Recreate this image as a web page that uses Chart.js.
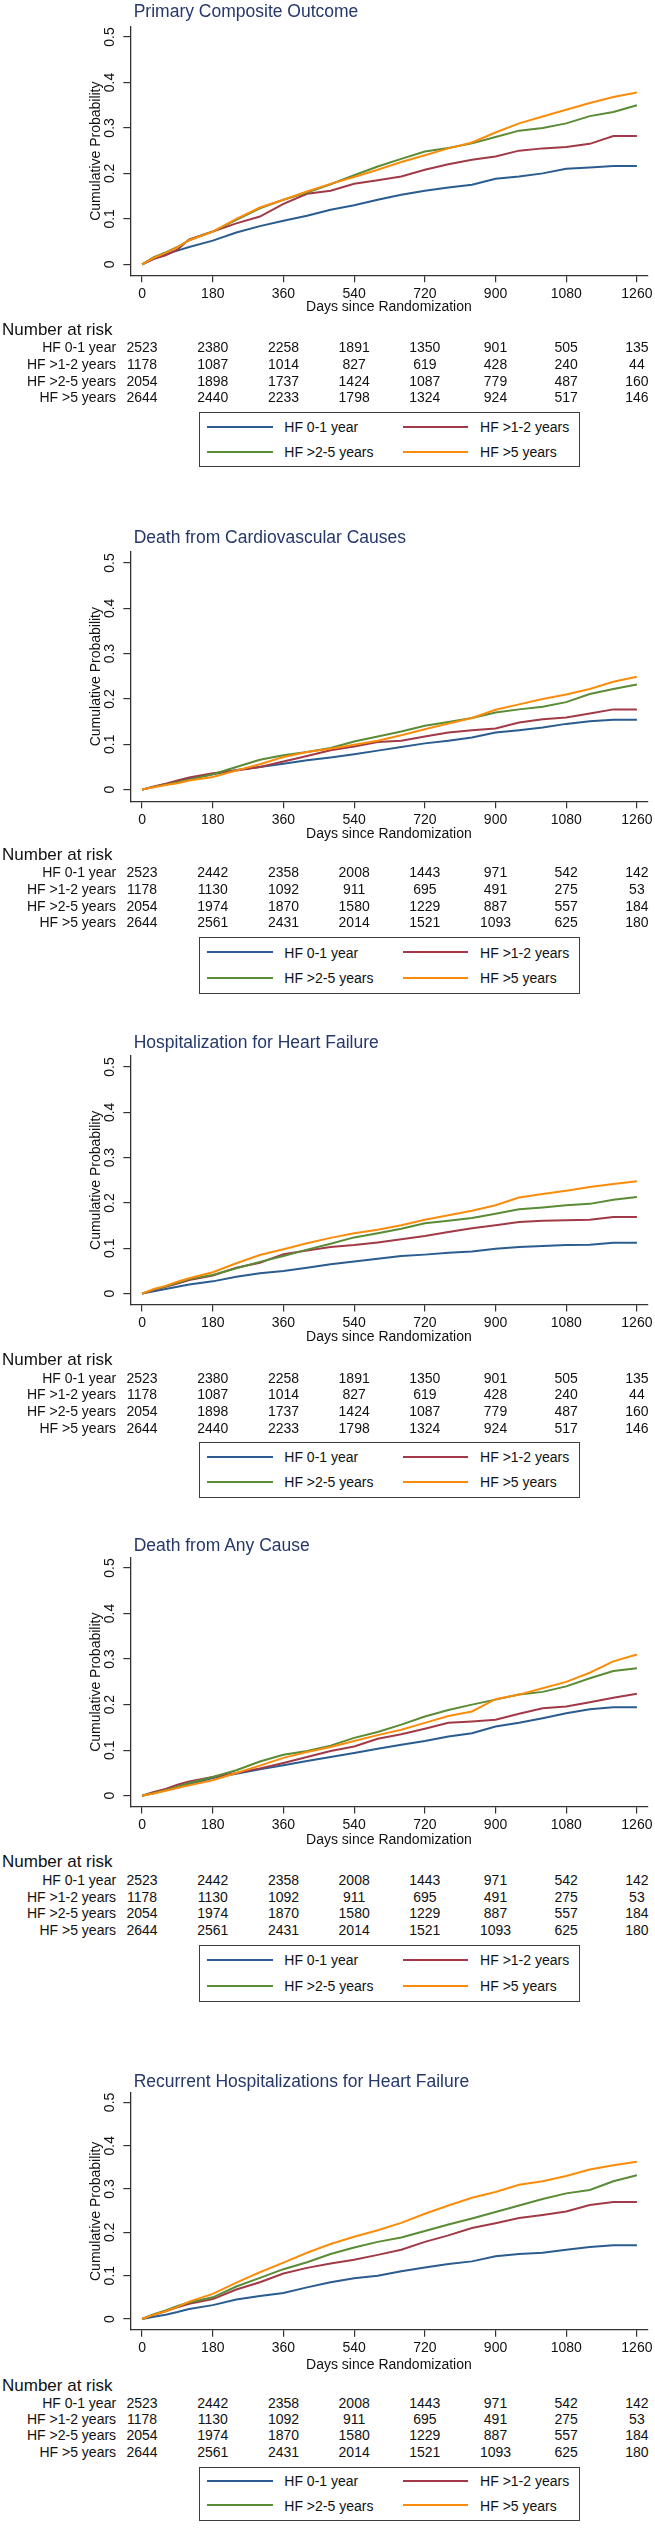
<!DOCTYPE html>
<html>
<head>
<meta charset="utf-8">
<script src="https://cdn.jsdelivr.net/npm/chart.js@4.4.1/dist/chart.umd.min.js"></script>
<style>
html,body{margin:0;padding:0;background:#fff;}
body{width:655px;height:2541px;position:relative;overflow:hidden;font-family:"Liberation Sans",Arial,Helvetica,sans-serif;color:#111;}
.abs{position:absolute;white-space:nowrap;}
canvas{position:absolute;left:0;}
.ttl{font-size:17.5px;line-height:20px;color:#26386b;}
.nar{font-size:17px;line-height:19px;}
.row{font-size:14px;line-height:16px;}
.num{transform:translateX(-50%);}
.leg{border:1.4px solid #3c3c3c;box-sizing:border-box;background:#fff;}
.lsw{height:2px;}
</style>
</head>
<body>
<script>
// ---------------- data ----------------
const days = [0,30,60,90,120,180,240,300,360,420,480,540,600,660,720,780,840,900,960,1020,1080,1140,1200,1260];
const xTicks = [0,180,360,540,720,900,1080,1260];
const yTicks = [0,0.1,0.2,0.3,0.4,0.5];
const groups = ["HF 0-1 year","HF >1-2 years","HF >2-5 years","HF >5 years"];
const panelTitles = ["Primary Composite Outcome","Death from Cardiovascular Causes","Hospitalization for Heart Failure","Death from Any Cause","Recurrent Hospitalizations for Heart Failure"];

// Primary composite outcome
const primary_hf01 = [0,0.012,0.022,0.03,0.038,0.052,0.07,0.084,0.096,0.107,0.12,0.13,0.142,0.153,0.162,0.169,0.175,0.188,0.193,0.2,0.21,0.213,0.216,0.216];
const primary_hf12 = [0,0.012,0.02,0.032,0.055,0.072,0.09,0.105,0.133,0.155,0.162,0.177,0.185,0.193,0.208,0.22,0.23,0.237,0.25,0.255,0.258,0.265,0.282,0.282];
const primary_hf25 = [0,0.016,0.026,0.038,0.053,0.072,0.098,0.123,0.142,0.158,0.176,0.196,0.215,0.232,0.248,0.256,0.266,0.28,0.294,0.3,0.31,0.326,0.335,0.35];
const primary_hf5  = [0,0.014,0.025,0.038,0.053,0.072,0.1,0.125,0.142,0.16,0.177,0.192,0.208,0.225,0.24,0.255,0.268,0.29,0.31,0.325,0.34,0.355,0.368,0.378];

// Death from cardiovascular causes
const cvdeath_hf01 = [0,0.006,0.012,0.017,0.024,0.034,0.043,0.05,0.057,0.065,0.071,0.078,0.086,0.094,0.102,0.108,0.115,0.126,0.131,0.137,0.145,0.151,0.154,0.154];
const cvdeath_hf12 = [0,0.007,0.013,0.02,0.027,0.036,0.042,0.05,0.062,0.074,0.087,0.095,0.105,0.108,0.117,0.126,0.131,0.135,0.148,0.155,0.159,0.168,0.177,0.177];
const cvdeath_hf25 = [0,0.006,0.011,0.016,0.022,0.034,0.05,0.066,0.076,0.083,0.092,0.106,0.117,0.128,0.141,0.149,0.158,0.17,0.177,0.183,0.193,0.211,0.222,0.232];
const cvdeath_hf5  = [0,0.005,0.01,0.014,0.02,0.028,0.042,0.056,0.072,0.083,0.09,0.099,0.108,0.12,0.133,0.146,0.158,0.176,0.188,0.2,0.21,0.222,0.238,0.249];

// Hospitalization for heart failure
const hfhosp_hf01 = [0,0.005,0.01,0.015,0.02,0.027,0.037,0.045,0.05,0.057,0.065,0.071,0.077,0.083,0.086,0.09,0.093,0.099,0.103,0.105,0.107,0.108,0.112,0.112];
const hfhosp_hf12 = [0,0.008,0.015,0.022,0.03,0.04,0.057,0.068,0.087,0.095,0.103,0.107,0.113,0.12,0.127,0.136,0.144,0.151,0.158,0.161,0.162,0.163,0.169,0.169];
const hfhosp_hf25 = [0,0.009,0.016,0.024,0.032,0.041,0.056,0.07,0.083,0.097,0.11,0.124,0.133,0.143,0.155,0.161,0.167,0.176,0.186,0.19,0.195,0.198,0.207,0.213];
const hfhosp_hf5  = [0,0.01,0.017,0.026,0.034,0.047,0.067,0.085,0.098,0.111,0.123,0.133,0.141,0.151,0.163,0.173,0.183,0.195,0.212,0.22,0.227,0.235,0.242,0.248];

// Death from any cause
const anydeath_hf01 = [0,0.006,0.012,0.018,0.025,0.039,0.048,0.058,0.067,0.076,0.085,0.094,0.103,0.112,0.12,0.13,0.137,0.152,0.16,0.17,0.181,0.19,0.194,0.194];
const anydeath_hf12 = [0,0.008,0.015,0.024,0.031,0.041,0.05,0.06,0.072,0.085,0.098,0.108,0.125,0.135,0.147,0.16,0.163,0.167,0.18,0.192,0.196,0.205,0.215,0.224];
const anydeath_hf25 = [0,0.006,0.012,0.02,0.028,0.041,0.056,0.075,0.09,0.098,0.11,0.127,0.14,0.156,0.174,0.188,0.2,0.211,0.222,0.228,0.24,0.258,0.274,0.28];
const anydeath_hf5  = [0,0.005,0.011,0.017,0.023,0.034,0.05,0.066,0.083,0.096,0.107,0.12,0.133,0.145,0.16,0.175,0.185,0.212,0.222,0.236,0.25,0.27,0.295,0.31];

// Recurrent hospitalizations for heart failure
const recurrent_hf01 = [0,0.005,0.01,0.016,0.023,0.032,0.045,0.053,0.06,0.073,0.085,0.094,0.1,0.11,0.119,0.127,0.133,0.145,0.15,0.153,0.16,0.166,0.17,0.17];
const recurrent_hf12 = [0,0.01,0.018,0.027,0.035,0.046,0.068,0.085,0.105,0.118,0.128,0.137,0.148,0.16,0.178,0.193,0.21,0.221,0.233,0.24,0.248,0.263,0.27,0.27];
const recurrent_hf25 = [0,0.011,0.02,0.03,0.038,0.05,0.075,0.095,0.115,0.131,0.15,0.165,0.178,0.188,0.203,0.218,0.232,0.247,0.262,0.277,0.29,0.298,0.318,0.332];
const recurrent_hf5  = [0,0.01,0.018,0.028,0.04,0.058,0.084,0.108,0.13,0.153,0.173,0.19,0.205,0.222,0.243,0.262,0.28,0.293,0.31,0.318,0.33,0.345,0.355,0.363];

// Number at risk
const riskA_hf01 = [2523,2380,2258,1891,1350,901,505,135];
const riskA_hf12 = [1178,1087,1014,827,619,428,240,44];
const riskA_hf25 = [2054,1898,1737,1424,1087,779,487,160];
const riskA_hf5  = [2644,2440,2233,1798,1324,924,517,146];
const riskB_hf01 = [2523,2442,2358,2008,1443,971,542,142];
const riskB_hf12 = [1178,1130,1092,911,695,491,275,53];
const riskB_hf25 = [2054,1974,1870,1580,1229,887,557,184];
const riskB_hf5  = [2644,2561,2431,2014,1521,1093,625,180];

// ---------------- assembly ----------------
const panelSeries = [
  [primary_hf01, primary_hf12, primary_hf25, primary_hf5],
  [cvdeath_hf01, cvdeath_hf12, cvdeath_hf25, cvdeath_hf5],
  [hfhosp_hf01, hfhosp_hf12, hfhosp_hf25, hfhosp_hf5],
  [anydeath_hf01, anydeath_hf12, anydeath_hf25, anydeath_hf5],
  [recurrent_hf01, recurrent_hf12, recurrent_hf25, recurrent_hf5]
];
const riskA = [riskA_hf01, riskA_hf12, riskA_hf25, riskA_hf5];
const riskB = [riskB_hf01, riskB_hf12, riskB_hf25, riskB_hf5];
const panelRisk = [riskA, riskB, riskA, riskB, riskB];

// ---------------- layout & style ----------------
const colors = ['#2b5c8f', '#a13a46', '#5a8b35', '#fb8c0b'];
const FONT = '"Liberation Sans", Arial, Helvetica, sans-serif';
const geo = [
  {titleBase:16.7, axisTop:26.7, axisBottom:275, y05:36.7, y0:264, xTitleC:307.3, narBase:335, rowBase:[352.3,369,385.7,402.3], legTop:412.3, legBot:467},
  {titleBase:543.3, axisTop:551.7, axisBottom:801, y05:562.7, y0:789.3, xTitleC:834, narBase:860.7, rowBase:[877.3,894,910.7,927.3], legTop:937.3, legBot:994},
  {titleBase:1048.3, axisTop:1055.7, axisBottom:1304.3, y05:1066.7, y0:1293.3, xTitleC:1337.3, narBase:1365, rowBase:[1382.7,1399.3,1416,1432.7], legTop:1441.7, legBot:1498.3},
  {titleBase:1550.7, axisTop:1558.3, axisBottom:1806.7, y05:1568.3, y0:1796, xTitleC:1840, narBase:1867.7, rowBase:[1885,1901.7,1918.3,1935], legTop:1945, legBot:2001.7},
  {titleBase:2086.7, axisTop:2093.3, axisBottom:2330, y05:2102.7, y0:2319.3, xTitleC:2365.7, narBase:2391.7, rowBase:[2408.3,2424.3,2440.3,2456.7], legTop:2466.7, legBot:2520.7}
];
const AXIS_LEFT = 130.3, AXIS_RIGHT = 647.5, X_MIN = -30, X_MAX = 1287;
const PAD_TOP = 16, XBOX = 46;

const yTickPlugin = {
  id: 'yTickLabels',
  afterDraw(chart) {
    const {ctx} = chart;
    const y = chart.scales.y;
    ctx.save();
    ctx.font = '14px ' + FONT;
    ctx.fillStyle = '#111';
    ctx.textAlign = 'center';
    ctx.textBaseline = 'middle';
    for (const v of yTicks) {
      const py = y.getPixelForValue(v);
      ctx.save();
      ctx.translate(y.right - 20.3, py);
      ctx.rotate(-Math.PI / 2);
      ctx.fillText(String(v), 0, 0);
      ctx.restore();
    }
    ctx.restore();
  }
};

function addDiv(cls, text, css) {
  const d = document.createElement('div');
  d.className = 'abs ' + cls;
  if (text !== null) d.textContent = text;
  Object.assign(d.style, css);
  document.body.appendChild(d);
  return d;
}

geo.forEach((g, p) => {
  const canvasTop = g.axisTop - PAD_TOP;
  const H = Math.round((g.axisBottom + XBOX) - canvasTop);
  const canvas = document.createElement('canvas');
  canvas.width = 655; canvas.height = H;
  canvas.style.top = canvasTop + 'px';
  canvas.style.width = '655px'; canvas.style.height = H + 'px';
  document.body.appendChild(canvas);

  const areaBottom = g.axisBottom - canvasTop;
  const xBoxH = H - areaBottom;
  const ppu = (g.y0 - g.y05) / 0.5;
  const yMax = 0.5 + (g.y05 - g.axisTop) / ppu;
  const yMin = -(g.axisBottom - g.y0) / ppu;
  const xTitlePadBottom = (g.axisBottom + xBoxH) - g.xTitleC - 8.4;

  const datasets = panelSeries[p].map((vals, i) => ({
    label: groups[i],
    data: days.map((d, j) => ({x: d, y: vals[j]})),
    borderColor: colors[i],
    backgroundColor: colors[i],
    borderWidth: 2,
    pointRadius: 0,
    tension: 0,
    fill: false,
    order: 4 - i
  }));

  const chart = new Chart(canvas, {
    type: 'line',
    data: {datasets},
    plugins: [yTickPlugin],
    options: {
      responsive: false,
      animation: false,
      devicePixelRatio: 1,
      layout: {padding: {top: PAD_TOP, left: 0, right: 655 - AXIS_RIGHT, bottom: 0}},
      plugins: {legend: {display: false}, tooltip: {enabled: false}, title: {display: false}},
      scales: {
        x: {
          type: 'linear', position: 'bottom', min: X_MIN, max: X_MAX,
          afterBuildTicks: (s) => { s.ticks = xTicks.map(v => ({value: v})); },
          afterFit: (s) => { s.height = xBoxH; s.paddingLeft = 0; s.paddingRight = 0; },
          grid: {display: true, drawOnChartArea: false, drawTicks: true, tickLength: 7, color: '#333', lineWidth: 1.2},
          border: {display: true, color: '#333', width: 1.3},
          ticks: {color: '#111', font: {family: FONT, size: 14}, padding: 3, maxRotation: 0, minRotation: 0, autoSkip: false, callback: (v) => String(v)},
          title: {display: true, text: 'Days since Randomization', color: '#111', font: {family: FONT, size: 14}, padding: {top: 0, bottom: xTitlePadBottom}}
        },
        y: {
          type: 'linear', position: 'left', min: yMin, max: yMax,
          afterBuildTicks: (s) => { s.ticks = yTicks.map(v => ({value: v})); },
          afterFit: (s) => { s.width = AXIS_LEFT; s.paddingTop = 0; s.paddingBottom = 0; },
          grid: {display: true, drawOnChartArea: false, drawTicks: true, tickLength: 7, color: '#333', lineWidth: 1.2},
          border: {display: true, color: '#333', width: 1.3},
          ticks: {display: false},
          title: {display: true, text: 'Cumulative Probability', color: '#111', font: {family: FONT, size: 14}, padding: {top: 87.8, bottom: 0}}
        }
      }
    }
  });

  // title
  addDiv('ttl', panelTitles[p], {left: '133.7px', top: (g.titleBase - 16.06) + 'px'});
  // number at risk
  addDiv('nar', 'Number at risk', {left: '2px', top: (g.narBase - 15.39) + 'px'});
  const xs = chart.scales.x;
  panelRisk[p].forEach((row, i) => {
    const top = (g.rowBase[i] - 12.85) + 'px';
    addDiv('row', groups[i], {left: '0px', width: '116.1px', textAlign: 'right', top});
    row.forEach((n, k) => {
      addDiv('row num', String(n), {left: xs.getPixelForValue(xTicks[k]) + 'px', top});
    });
  });
  // legend
  const legH = g.legBot - g.legTop;
  const leg = addDiv('leg', null, {left: '199.3px', top: g.legTop + 'px', width: '380.5px', height: legH + 'px'});
  const rowsY = [0.275 * legH, 0.725 * legH];
  const colX = [[6.4, 72.4, 84], [202.4, 267.7, 279.8]];
  datasets.forEach((ds, i) => {
    const r = Math.floor(i / 2), c = i % 2;
    const ly = rowsY[r];
    const sw = document.createElement('div');
    sw.className = 'abs lsw';
    Object.assign(sw.style, {left: colX[c][0] + 'px', width: (colX[c][1] - colX[c][0]) + 'px', top: (ly - 1.4 - 1) + 'px', background: ds.borderColor});
    leg.appendChild(sw);
    const t = document.createElement('div');
    t.className = 'abs row';
    t.textContent = ds.label;
    Object.assign(t.style, {left: colX[c][2] + 'px', top: (ly - 1.4 - 7.84) + 'px'});
    leg.appendChild(t);
  });
});
</script>
</body>
</html>
